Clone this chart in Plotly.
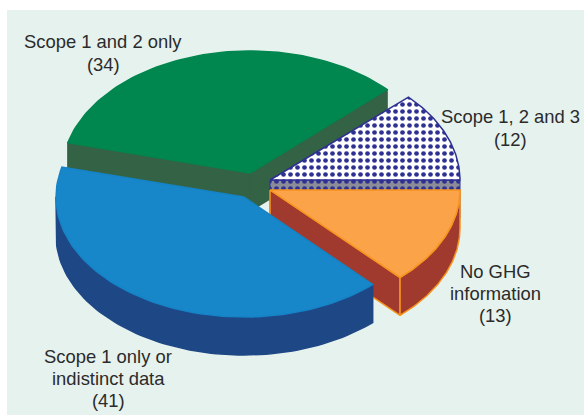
import math
import plotly.graph_objects as go

labels = ["No GHG<br>information", "Scope 1 only or<br>indistinct data", "Scope 1 and 2 only", "Scope 1, 2 and 3"]
values = [13, 41, 34, 12]

# top colour, wall colour, outline colour
TOPS = ["#FBA349", "#1887C9", "#00864F", "#FFFFFF"]
WALLS = ["#A13A2E", "#1E4785", "#336244", "#8C8C98"]
EDGES = ["#F7941D", "#1583C6", "#00864F", "#2E3192"]

# exploded apex and radii of each slice, in page pixels
APEX = [(270, 190), (244, 197), (250, 173), (270, 180)]
RX = [190, 188, 188, 190]
RY = [120, 120, 122, 121]
DEPTH = 38
LABEL_TOP = [(495, 271), (108, 356), (103, 42), (510, 117)]
LINE_H = 22.3
DOTS = dict(shape=".", fgcolor="#2E3192", fgopacity=1, size=7, solidity=0.36)


def ring(i, a0, a1, dy=0, n=80):
    cx, cy = APEX[i]
    pts = []
    for k in range(n + 1):
        a = math.radians(a0 + (a1 - a0) * k / n)
        pts.append((cx + RX[i] * math.cos(a), cy + dy - RY[i] * math.sin(a)))
    return pts


def poly(pts, fill, edge, pattern=None, width=1.5):
    xs = [p[0] for p in pts] + [pts[0][0]]
    ys = [p[1] for p in pts] + [pts[0][1]]
    tr = go.Scatter(x=xs, y=ys, mode="lines", fill="toself", fillcolor=fill,
                    line=dict(color=edge, width=width), hoverinfo="skip", showlegend=False)
    if pattern:
        tr.fillpattern = dict(bgcolor=fill, **pattern)
    return tr


# slices run clockwise from 3 o'clock
angles = []
start = 0.0
for v in values:
    sweep = 360.0 * v / sum(values)
    angles.append((start, start - sweep))
    start -= sweep


def radial_wall(i, a, edge, pat=None, width=1.5):
    cx, cy = APEX[i]
    p = ring(i, a, a, n=1)[0]
    return poly([(cx, cy), p, (p[0], p[1] + DEPTH), (cx, cy + DEPTH)], WALLS[i], edge, pat, width)


def slice_traces(i):
    cx, cy = APEX[i]
    a0, a1 = angles[i]
    pat = DOTS if i == 3 else None
    out = []
    if i == 0:
        out.append(radial_wall(i, a1, EDGES[i]))
    elif i == 2:
        out.append(radial_wall(i, a0, WALLS[i]))
        out.append(radial_wall(i, a1, WALLS[i]))
    elif i == 3:
        out.append(radial_wall(i, a1, EDGES[i], pat, 1))
    # outer wall, only the part that faces the viewer
    lo, hi = max(a1, -180), min(a0, 0)
    if hi > lo:
        front = ring(i, hi, lo)
        back = ring(i, lo, hi, dy=DEPTH)
        out.append(poly(front + back, WALLS[i], EDGES[i] if i == 0 else WALLS[i]))
    out.append(poly([(cx, cy)] + ring(i, a0, a1), TOPS[i], EDGES[i], pat))
    return out


fig = go.Figure()
for i in (2, 3, 0, 1):
    for tr in slice_traces(i):
        fig.add_trace(tr)

for text, v, (x, y) in zip(labels, values, LABEL_TOP):
    for k, line in enumerate(f"{text}<br>({v})".split("<br>")):
        fig.add_annotation(x=x, y=y + k * LINE_H, text=line, showarrow=False,
                           font=dict(family="Liberation Sans", size=18.4, color="#2B2B2B"))

fig.update_layout(
    width=584, height=415,
    margin=dict(l=0, r=0, t=0, b=0),
    paper_bgcolor="#FFFFFF",
    plot_bgcolor="#E6F2EE",
    xaxis=dict(domain=[7 / 584, 1], range=[7, 584], visible=False),
    yaxis=dict(domain=[0, 405 / 415], range=[415, 10], visible=False),
)
fig.write_html("out.html", config=dict(displayModeBar=False),
               post_script="document.body.style.margin='0';")
